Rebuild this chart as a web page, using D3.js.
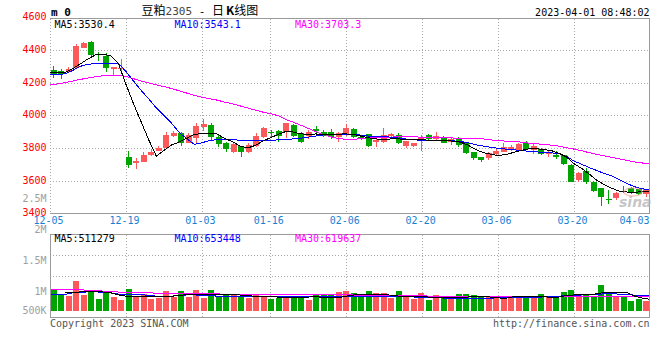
<!DOCTYPE html>
<html><head><meta charset="utf-8">
<script src="https://cdn.jsdelivr.net/npm/d3@7"></script>
<style>html,body{margin:0;padding:0;background:#fff;}svg{display:block;}</style>
</head><body>
<svg id="c" width="660" height="360"></svg>
<script>
// ---------------- DATA ----------------
const dates = ["12-05","12-06","12-07","12-08","12-09","12-12","12-13","12-14","12-15","12-16",
"12-19","12-20","12-21","12-22","12-23","12-26","12-27","12-28","12-29","12-30",
"01-03","01-04","01-05","01-06","01-09","01-10","01-11","01-12","01-13",
"01-16","01-17","01-18","01-19","01-20",
"01-30","01-31","02-01","02-02","02-03",
"02-06","02-07","02-08","02-09","02-10","02-13","02-14","02-15","02-16","02-17",
"02-20","02-21","02-22","02-23","02-24","02-27","02-28","03-01","03-02","03-03",
"03-06","03-07","03-08","03-09","03-10","03-13","03-14","03-15","03-16","03-17",
"03-20","03-21","03-22","03-23","03-24","03-27","03-28","03-29","03-30","03-31",
"04-03"];
const openP  = [4277,4271,4267,4288,4414,4450,4373,4363,4282,4282,
3747,3710,3716,3757,3783,3798,3873,3890,3832,3859,
3930,3940,3865,3832,3777,3812,3777,3812,3865,3896,
3906,3900,3940,3893,3875,3918,3900,3900,3869,3885,
3916,3869,3885,3835,3838,3876,3879,3812,3814,3855,
3879,3853,3869,3835,3855,3828,3773,3743,3740,3763,
3777,3790,3788,3828,3790,3794,3761,3757,3757,3696,
3604,3661,3594,3553,3485,3492,3538,3553,3547,3517];
const highP  = [4302,4285,4296,4435,4451,4452,4386,4380,4296,4345,
3783,3737,3777,3792,3810,3896,3906,3900,3894,3951,
3975,3951,3879,3835,3832,3815,3829,3891,3926,3910,
3910,3955,3945,3896,3910,3934,3910,3916,3900,3947,
3920,3875,3888,3859,3920,3893,3890,3842,3832,3879,
3885,3896,3875,3865,3865,3832,3775,3745,3773,3792,
3828,3818,3828,3840,3824,3798,3783,3779,3760,3700,
3655,3676,3596,3557,3543,3530,3565,3558,3550,3546];
const lowP   = [4230,4224,4264,4285,4410,4365,4334,4263,4247,4272,
3679,3671,3712,3753,3780,3795,3865,3812,3829,3829,
3906,3849,3808,3777,3767,3747,3767,3806,3859,3865,
3838,3863,3869,3832,3853,3890,3865,3853,3838,3873,
3860,3849,3808,3804,3829,3869,3822,3798,3806,3783,
3850,3845,3828,3820,3808,3761,3727,3716,3727,3755,
3777,3783,3783,3790,3763,3755,3745,3730,3696,3590,
3592,3580,3529,3445,3457,3480,3522,3520,3510,3500];
const closeP = [4247,4255,4283,4424,4445,4370,4368,4288,4294,4290,
3696,3722,3757,3777,3800,3879,3894,3829,3879,3936,
3945,3865,3822,3792,3822,3777,3818,3873,3920,3892,
3873,3951,3875,3838,3900,3902,3873,3869,3893,3924,
3865,3855,3814,3849,3879,3884,3832,3840,3828,3869,
3855,3875,3832,3853,3818,3767,3740,3727,3767,3783,
3808,3808,3824,3794,3810,3761,3777,3745,3700,3594,
3645,3594,3537,3502,3481,3526,3530,3530,3520,3546];
const volume = [930000,720000,660000,1290000,690000,900000,520000,830000,610000,470000,
940000,640000,760000,520000,570000,860000,610000,860000,610000,900000,
570000,900000,640000,720000,740000,660000,570000,740000,640000,520000,
570000,660000,640000,660000,500000,690000,690000,690000,830000,870000,
790000,610000,870000,790000,790000,570000,870000,640000,520000,790000,
470000,690000,610000,610000,740000,740000,690000,610000,610000,610000,
570000,610000,610000,640000,640000,740000,610000,640000,830000,900000,
740000,740000,640000,1120000,830000,620000,600000,450000,540000,420000];
const ma5  = [4263,4263,4263,4286,4315,4345,4370,4372,4366,4318,
4190,4070,3960,3850,3750,3785,3818,3836,3860,3882,
3890,3888,3886,3858,3840,3812,3800,3815,3842,3862,
3882,3900,3898,3887,3882,3886,3880,3880,3885,3886,
3882,3872,3862,3855,3850,3856,3855,3852,3852,3853,
3844,3846,3845,3842,3836,3818,3792,3772,3762,3754,
3760,3772,3784,3794,3796,3790,3784,3768,3745,3703,
3675,3640,3602,3575,3553,3535,3530,3530,3531,3530.4];
const ma10 = [4247,4250,4254,4275,4300,4312,4318,4320,4320,4320,
4268,4210,4152,4100,4045,3998,3952,3895,3858,3822,
3832,3845,3852,3852,3850,3848,3847,3846,3847,3848,
3849,3850,3856,3860,3866,3873,3880,3882,3884,3885,
3882,3879,3872,3869,3869,3866,3860,3854,3850,3846,
3845,3845,3845,3844,3840,3832,3820,3812,3804,3798,
3793,3789,3785,3780,3776,3773,3770,3767,3748,3720,
3700,3680,3662,3643,3628,3605,3582,3562,3550,3543.1];
const ma30 = [4185,4192,4200,4210,4220,4228,4236,4242,4246,4246,
4238,4224,4210,4198,4186,4176,4164,4150,4136,4122,
4110,4102,4093,4081,4070,4058,4045,4032,4020,4010,
3998,3975,3958,3940,3920,3900,3882,3868,3857,3853,
3853,3858,3863,3865,3866,3867,3868,3869,3868,3866,
3865,3863,3862,3861,3860,3859,3858,3856,3850,3845,
3842,3839,3836,3830,3826,3822,3817,3811,3802,3793,
3783,3771,3761,3751,3742,3733,3723,3714,3708,3703.3];
const vma5 = [null,null,820000,820000,830000,860000,870000,830000,800000,700000,
650000,650000,640000,620000,620000,620000,640000,680000,720000,740000,
720000,700000,700000,700000,730000,700000,660000,650000,640000,620000,
610000,590000,580000,600000,610000,620000,600000,590000,580000,650000,
700000,730000,740000,740000,730000,680000,650000,650000,650000,640000,
600000,580000,580000,580000,590000,610000,620000,620000,610000,570000,
560000,620000,650000,650000,640000,620000,600000,610000,680000,700000,
700000,710000,750000,810000,820000,820000,800000,650000,560000,511279];
const vma10 = [730000,730000,730000,790000,800000,840000,840000,800000,790000,740000,
730000,730000,720000,680000,650000,650000,650000,680000,700000,700000,
690000,670000,650000,650000,640000,640000,640000,640000,640000,640000,
640000,640000,640000,640000,640000,640000,635000,625000,620000,620000,
620000,625000,635000,640000,645000,645000,640000,625000,610000,600000,
585000,575000,565000,560000,555000,555000,555000,555000,560000,575000,
580000,585000,590000,595000,600000,615000,635000,650000,665000,680000,
700000,720000,735000,745000,745000,740000,720000,690000,665000,653448];
const vma30 = [955000,955000,950000,950000,948000,880000,875000,872000,868000,825000,
822000,820000,818000,812000,760000,755000,752000,750000,748000,746000,
745000,745000,742000,740000,738000,737000,735000,733000,732000,730000,
728000,727000,725000,722000,720000,718000,716000,705000,702000,700000,
698000,695000,690000,688000,684000,680000,676000,672000,668000,663000,
648000,645000,642000,640000,638000,636000,634000,632000,631000,630000,
629000,628000,627000,626000,625000,625000,624000,623000,623000,622000,
622000,621000,621000,621000,620000,620000,620000,620000,620000,619637];
const priceTicks = [4600,4400,4200,4000,3800,3600,3400];
const volTicks = [2500000,2000000,1500000,1000000,500000];
const volTickLabels = ["2.5M","2M","1.5M","1M","500K"];
const dateTicks = ["12-05","12-19","01-03","01-16","02-06","02-20","03-06","03-20","04-03"];

// ---------------- LAYOUT ----------------
const L = 50, R = 650, mainTop = 18.5, mainBot = 213.5, volTop = 234.5, volBot = 317.5;
const MONO = "'DejaVu Sans Mono', monospace";
const RED = "#fc5a5a", GREEN = "#00a400", GRID = "#a8a8a8", BORDER = "#9a9a9a";

const svg = d3.select("#c");
svg.append("rect").attr("width",660).attr("height",360).attr("fill","#fff");

const n = dates.length;
const xb = d3.scaleBand().domain(d3.range(n)).range([L, R]).paddingInner(0.2).paddingOuter(0.1);
const xg = d3.scaleLinear().domain([0, n - 1]).range([L, R]);
const yP = d3.scaleLinear().domain([3400, 4600]).range([213.3, 17.3]);
const yV = d3.scaleLinear().domain([0, 3400000]).range([311, 233.1]);
const yVLab = d3.scaleLinear().domain([1000000, 2500000]).range([291, 198.5]);
const crisp = v => Math.round(v) + 0.5;
const tickIdx = dateTicks.map(t => dates.indexOf(t));

// ---------- grids ----------
const g = svg.append("g").attr("shape-rendering","crispEdges");
g.selectAll(".hp").data(priceTicks.filter(v => v > 3400 && v < 4600)).enter().append("line")
  .attr("x1", L).attr("x2", R).attr("y1", d => crisp(yP(d))).attr("y2", d => crisp(yP(d)))
  .attr("stroke", GRID).attr("stroke-dasharray","1,2");
const vIdx = tickIdx.filter(i => i > 0 && i < n - 1);
g.selectAll(".vp").data(vIdx).enter().append("line")
  .attr("x1", d => crisp(xg(d))).attr("x2", d => crisp(xg(d)))
  .attr("y1", mainTop).attr("y2", mainBot).attr("stroke", GRID).attr("stroke-dasharray","1,2");
g.selectAll(".vv").data(vIdx).enter().append("line")
  .attr("x1", d => crisp(xg(d))).attr("x2", d => crisp(xg(d)))
  .attr("y1", volTop).attr("y2", volBot).attr("stroke", GRID).attr("stroke-dasharray","1,2");
g.selectAll(".hv").data([0.25, 0.5]).enter().append("line")
  .attr("x1", L).attr("x2", R)
  .attr("y1", d => crisp(volTop + (volBot - volTop) * d)).attr("y2", d => crisp(volTop + (volBot - volTop) * d))
  .attr("stroke", GRID).attr("stroke-dasharray","1,2");
g.append("line").attr("x1", L + 0.5).attr("x2", L + 0.5).attr("y1", mainTop).attr("y2", mainBot)
  .attr("stroke", GRID).attr("stroke-dasharray","1,2");

// ---------- candles ----------
const idx = d3.range(n);
const up = i => closeP[i] >= openP[i];
const cg = svg.append("g").attr("shape-rendering","crispEdges");
cg.selectAll(".wick").data(idx).enter().append("line")
  .attr("x1", i => Math.floor(xb(i) + xb.bandwidth()/2) + 0.5)
  .attr("x2", i => Math.floor(xb(i) + xb.bandwidth()/2) + 0.5)
  .attr("y1", i => yP(highP[i])).attr("y2", i => yP(lowP[i]))
  .attr("stroke", i => up(i) ? RED : GREEN);
cg.selectAll(".body").data(idx).enter().append("rect")
  .attr("x", i => xb(i)).attr("width", xb.bandwidth())
  .attr("y", i => yP(Math.max(openP[i], closeP[i])))
  .attr("height", i => Math.max(1, Math.abs(yP(openP[i]) - yP(closeP[i]))))
  .attr("fill", i => up(i) ? RED : GREEN);

// ---------- volume bars ----------
cg.selectAll(".vol").data(idx).enter().append("rect")
  .attr("x", i => xb(i)).attr("width", xb.bandwidth())
  .attr("y", i => yV(volume[i])).attr("height", i => yV(0) - yV(volume[i]))
  .attr("fill", i => up(i) ? RED : GREEN);

// ---------- MA lines ----------
function maLine(arr, yS, color) {
  const line = d3.line().defined(i => arr[i] != null).x(i => xg(i)).y(i => yS(arr[i]));
  svg.append("path").attr("d", line(idx)).attr("fill","none").attr("stroke", color)
    .attr("stroke-width", 1).attr("shape-rendering","crispEdges");
}
maLine(ma30, yP, "#ff00ff");
maLine(ma10, yP, "#0000ff");
maLine(ma5, yP, "#000000");
maLine(vma30, yV, "#ff00ff");
maLine(vma10, yV, "#0000ff");
maLine(vma5, yV, "#000000");

// ---------- borders ----------
const b = svg.append("g").attr("shape-rendering","crispEdges").attr("stroke", BORDER).attr("fill","none");
b.append("path").attr("d", `M${L},${mainTop}H${R - 0.5}V${mainBot}H${L}`);
b.append("path").attr("d", `M${L + 0.5},${volBot}V${volTop}H${R - 0.5}V${volBot}H${L + 0.5}`);

// ---------- texts ----------
const t = svg.append("g").attr("font-family", MONO).attr("font-size", 10);
t.selectAll(".pl").data(priceTicks).enter().append("text")
  .attr("x", 46.5).attr("y", d => yP(d) - 0.5 + 3.6).attr("text-anchor","end")
  .attr("fill","#ff0000").text(d => d);
t.selectAll(".vl").data(volTicks).enter().append("text")
  .attr("x", 46.5).attr("y", (d) => Math.min(yVLab(d), 310.7) + 3.6).attr("text-anchor","end")
  .attr("fill","#a0a0a0").text((d, i) => volTickLabels[i]);
t.selectAll(".dl").data(tickIdx).enter().append("text")
  .attr("x", d => Math.min(xg(d) - 1.5, 649.5 - 15)).attr("y", 224.2).attr("text-anchor","middle")
  .attr("fill","#1a7fd4").text((d, i) => dateTicks[i]);
const last = n - 1;
t.append("text").attr("x", 54.5).attr("y", 27.8).attr("fill","#000").text("MA5:" + ma5[last].toFixed(1));
t.append("text").attr("x", 174.5).attr("y", 27.8).attr("fill","#0000ff").text("MA10:" + ma10[last].toFixed(1));
t.append("text").attr("x", 295).attr("y", 27.8).attr("fill","#ff00ff").text("MA30:" + ma30[last].toFixed(1));
t.append("text").attr("x", 54.5).attr("y", 241.6).attr("fill","#000").text("MA5:" + vma5[last]);
t.append("text").attr("x", 174.5).attr("y", 241.6).attr("fill","#0000ff").text("MA10:" + vma10[last]);
t.append("text").attr("x", 295).attr("y", 241.6).attr("fill","#ff00ff").text("MA30:" + vma30[last]);
t.append("text").attr("x", 51).attr("y", 15.5).attr("font-size", 11).attr("font-weight","bold").attr("fill","#000").text("m 0");
t.append("text").attr("x", 649.5).attr("y", 15.5).attr("text-anchor","end").attr("fill","#000").text("2023-04-01 08:48:02");
const title = svg.append("text").attr("x", 141.5).attr("y", 14.5).attr("font-size", 12)
  .attr("font-family","'Noto Sans CJK SC', sans-serif").attr("fill","#000");
title.append("tspan").text("豆粕");
title.append("tspan").attr("font-family", MONO).attr("font-size", 11).attr("fill","#444").text("2305");
title.append("tspan").attr("font-family", MONO).attr("font-size", 11).text(" - ");
title.append("tspan").text("日");
title.append("tspan").attr("font-weight","bold").attr("dx", 2).text("K");
title.append("tspan").text("线图");
t.append("text").attr("x", 50).attr("y", 326.5).attr("fill","#555").text("Copyright 2023 SINA.COM");
t.append("text").attr("x", 649.5).attr("y", 326.5).attr("text-anchor","end").attr("fill","#555").text("http://finance.sina.com.cn");
svg.append("text").attr("x", 619).attr("y", 206.5).attr("font-family","'DejaVu Sans', sans-serif")
  .attr("font-size", 14).attr("font-style","italic").attr("font-weight","bold")
  .attr("fill","#b4b4b4").attr("opacity", 0.75).text("sina");
svg.append("ellipse").attr("cx", 633).attr("cy", 192).attr("rx", 9).attr("ry", 4)
  .attr("fill","none").attr("stroke","#f4a0a0").attr("stroke-width", 1.5).attr("opacity", 0.6);
</script>
</body></html>
